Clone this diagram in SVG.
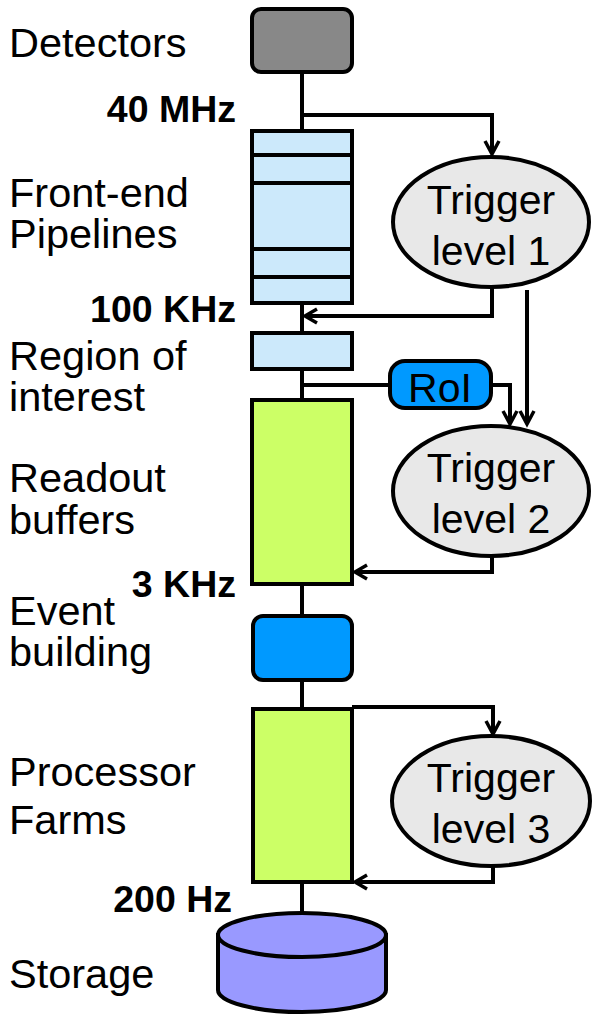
<svg xmlns="http://www.w3.org/2000/svg" width="592" height="1015" viewBox="0 0 592 1015">
<style>
.lbl{font-family:"Liberation Sans",Arial,sans-serif;font-size:41.5px;fill:#000}
.rate{font-family:"Liberation Sans",Arial,sans-serif;font-size:37.5px;font-weight:bold;fill:#000;text-anchor:end}
.tr{font-family:"Liberation Sans",Arial,sans-serif;font-size:41px;fill:#000;text-anchor:middle}
.box{stroke:#000;stroke-width:4}
.ln{fill:none;stroke:#000;stroke-width:4}
.ah{fill:none;stroke:#000;stroke-width:3.5;stroke-linejoin:miter}
</style>
<rect width="592" height="1015" fill="#fff"/>
<g id="labels">
<text class="lbl" x="9" y="57">Detectors</text>
<text class="lbl" x="9" y="207">Front-end</text>
<text class="lbl" x="9" y="248">Pipelines</text>
<text class="lbl" x="9" y="370">Region of</text>
<text class="lbl" x="9" y="411">interest</text>
<text class="lbl" x="9" y="492">Readout</text>
<text class="lbl" x="9" y="534">buffers</text>
<text class="lbl" x="9" y="625">Event</text>
<text class="lbl" x="9" y="666">building</text>
<text class="lbl" x="9" y="786">Processor</text>
<text class="lbl" x="9" y="834">Farms</text>
<text class="lbl" x="9" y="988">Storage</text>
<text class="rate" x="236" y="122">40 MHz</text>
<text class="rate" x="236" y="322">100 KHz</text>
<text class="rate" x="236" y="597">3 KHz</text>
<text class="rate" x="232" y="912">200 Hz</text>
</g>
<g id="connectors">
<path class="ln" d="M302,73 V925"/>
<path class="ln" d="M302,115 H492 V153"/>
<path class="ah" d="M485,141 L492,154 L499,141"/>
<path class="ln" d="M492,288 V316 H306"/>
<path class="ah" d="M317,309 L305,316 L317,323"/>
<path class="ln" d="M527,290 V423"/>
<path class="ah" d="M520,411 L527,424 L534,411"/>
<path class="ln" d="M302,385 H392"/>
<path class="ln" d="M490,385 H510 V423"/>
<path class="ah" d="M503,411 L510,424 L517,411"/>
<path class="ln" d="M492,557 V572 H356"/>
<path class="ah" d="M367,565 L355,572 L367,579"/>
<path class="ln" d="M352,707 H493 V733"/>
<path class="ah" d="M486,721 L493,734 L500,721"/>
<path class="ln" d="M493,867 V882 H356"/>
<path class="ah" d="M367,875 L355,882 L367,889"/>
</g>
<g id="detectors"><rect class="box" x="252" y="9" width="100" height="63" rx="9" fill="#888888"/></g>
<g id="frontend">
<rect class="box" x="252" y="131" width="100" height="172" fill="#cce9fb"/>
<path class="ln" d="M252,155 H352 M252,183 H352 M252,249 H352 M252,277 H352"/>
</g>
<g id="roi-region"><rect class="box" x="252" y="333" width="100" height="36" fill="#cce9fb"/></g>
<g id="roi"><rect class="box" x="390" y="361" width="101" height="47" rx="15" fill="#0099ff"/><text class="tr" x="440" y="402">RoI</text></g>
<g id="readout"><rect class="box" x="252" y="400" width="100" height="184" fill="#ccff66"/></g>
<g id="eventbuilding"><rect class="box" x="253" y="616" width="99" height="64" rx="10" fill="#0099ff"/></g>
<g id="processor"><rect class="box" x="253" y="709" width="99" height="173" fill="#ccff66"/></g>
<g id="trigger1"><ellipse class="box" cx="491" cy="222" rx="98" ry="65" fill="#e8e8e8"/><text class="tr" x="491" y="214">Trigger</text><text class="tr" x="491" y="265">level 1</text></g>
<g id="trigger2"><ellipse class="box" cx="491" cy="491" rx="98" ry="65" fill="#e8e8e8"/><text class="tr" x="491" y="482">Trigger</text><text class="tr" x="491" y="533">level 2</text></g>
<g id="trigger3"><ellipse class="box" cx="491" cy="801" rx="99" ry="65" fill="#e8e8e8"/><text class="tr" x="491" y="792">Trigger</text><text class="tr" x="491" y="843">level 3</text></g>
<g id="storage">
<path class="box" d="M218,935 V990 A84,22 0 0 0 386,990 V935 Z" fill="#9999ff"/>
<ellipse class="box" cx="302" cy="935" rx="84" ry="22" fill="#9999ff"/>
</g>
</svg>
